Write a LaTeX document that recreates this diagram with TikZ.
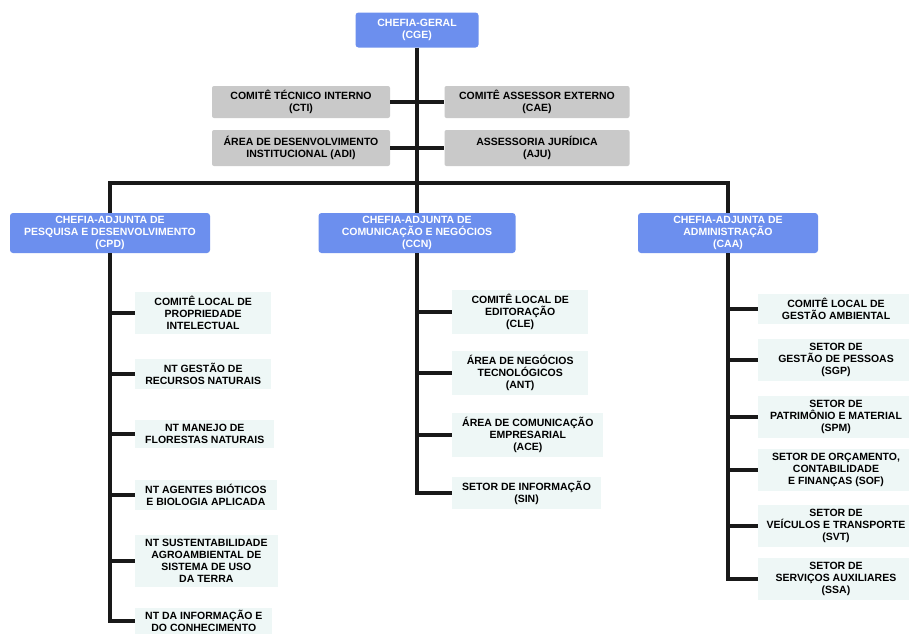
\documentclass[tikz,border=0pt]{standalone}
\usepackage{fontspec}
\setmainfont{Liberation Sans}
\usetikzlibrary{positioning}
\definecolor{chefiablue}{RGB}{108,143,238}
\definecolor{assessgray}{RGB}{201,201,201}
\definecolor{setorfill}{RGB}{238,247,246}
\newcommand{\orgfont}{\fontsize{10.5}{12}\selectfont}
\tikzstyle{chefia} = [rectangle, rounded corners=3pt, fill=chefiablue, text=white, font=\orgfont\bfseries, align=center, minimum height=40pt, inner sep=1pt]
\tikzstyle{assessoria} = [rectangle, rounded corners=2pt, fill=assessgray, font=\orgfont\bfseries, align=center, minimum height=32pt, inner sep=1pt]
\tikzstyle{setor} = [rectangle, fill=setorfill, font=\orgfont\bfseries, align=center, minimum width=136pt, inner xsep=10pt, inner ysep=4pt, anchor=west]
\tikzstyle{setoradm} = [setor, anchor=center, minimum width=156pt, inner xsep=1pt]
\tikzstyle{line} = [line width=3.2pt, draw=black!90]

\begin{document}
\begin{tikzpicture}[x=1pt, y=-1pt]
    \useasboundingbox (0,0) rectangle (909,635);
    \clip (0,0) rectangle (909,635);
    \fill[white] (0,0) rectangle (909,635);
    %chefias e assessorias
    \node (cge) [chefia, minimum width=123pt, minimum height=35pt] at (417,30) {CHEFIA-GERAL\\(CGE)};
    \node (cti) [assessoria, minimum width=178pt] at (301,102) {COMITÊ TÉCNICO INTERNO\\(CTI)};
    \node (cae) [assessoria, minimum width=185pt] at (537,102) {COMITÊ ASSESSOR EXTERNO\\(CAE)};
    \node (adi) [assessoria, minimum width=178pt, minimum height=36pt] at (301,148) {ÁREA DE DESENVOLVIMENTO\\INSTITUCIONAL (ADI)};
    \node (aju) [assessoria, minimum width=185pt, minimum height=36pt] at (537,148) {ASSESSORIA JURÍDICA\\(AJU)};
    \node (cpd) [chefia, minimum width=200pt] at (110,233) {CHEFIA-ADJUNTA DE\\PESQUISA E DESENVOLVIMENTO\\(CPD)};
    \node (ccn) [chefia, minimum width=197pt] at (417,233) {CHEFIA-ADJUNTA DE\\COMUNICAÇÃO E NEGÓCIOS\\(CCN)};
    \node (caa) [chefia, minimum width=180pt] at (728,233) {CHEFIA-ADJUNTA DE\\ADMINISTRAÇÃO\\(CAA)};
    \coordinate (barra) at (417,183);

    %pesquisa e desenvolvimento
    \node (p1) [setor] at (135,313) {COMITÊ LOCAL DE\\PROPRIEDADE\\INTELECTUAL};
    \node (p2) [setor] at (135,374) {NT GESTÃO DE\\RECURSOS NATURAIS};
    \node (p3) [setor] at (135,434) {NT MANEJO DE\\FLORESTAS NATURAIS};
    \node (p4) [setor] at (135,495) {NT AGENTES BIÓTICOS\\E BIOLOGIA APLICADA};
    \node (p5) [setor] at (135,561) {NT SUSTENTABILIDADE\\AGROAMBIENTAL DE\\SISTEMA DE USO\\DA TERRA};
    \node (p6) [setor, inner ysep=2pt] at (135,621) {NT DA INFORMAÇÃO E\\DO CONHECIMENTO};

    %comunicação e negócios
    \node (c1) [setor] at (452,312) {COMITÊ LOCAL DE\\EDITORAÇÃO\\(CLE)};
    \node (c2) [setor] at (452,373) {ÁREA DE NEGÓCIOS\\TECNOLÓGICOS\\(ANT)};
    \node (c3) [setor] at (452,435) {ÁREA DE COMUNICAÇÃO\\EMPRESARIAL\\(ACE)};
    \node (c4) [setor] at (452,493) {SETOR DE INFORMAÇÃO\\(SIN)};

    %administração
    \node (a1) [setoradm] at (836,309) {COMITÊ LOCAL DE\\GESTÃO AMBIENTAL};
    \node (a2) [setoradm] at (836,360) {SETOR DE\\GESTÃO DE PESSOAS\\(SGP)};
    \node (a3) [setoradm] at (836,417) {SETOR DE\\PATRIMÔNIO E MATERIAL\\(SPM)};
    \node (a4) [setoradm] at (836,470) {SETOR DE ORÇAMENTO,\\CONTABILIDADE\\E FINANÇAS (SOF)};
    \node (a5) [setoradm] at (836,526) {SETOR DE\\VEÍCULOS E TRANSPORTE\\(SVT)};
    \node (a6) [setoradm] at (836,579) {SETOR DE\\SERVIÇOS AUXILIARES\\(SSA)};

    %ligações
    \draw [line] (cge.south) -- (ccn.north);
    \draw [line] (cti.east) -- (cae.west);
    \draw [line] (adi.east) -- (aju.west);
    \draw [line] (cpd.north) |- (barra) -| (caa.north);
    \draw [line] (cpd.south) |- (p6.west);
    \draw [line] (ccn.south) |- (c4.west);
    \draw [line] (caa.south) |- (a6.west);
    \foreach \n in {p1,p2,p3,p4,p5}
        \draw [line] (cpd.south |- \n.west) -- (\n.west);
    \foreach \n in {c1,c2,c3}
        \draw [line] (ccn.south |- \n.west) -- (\n.west);
    \foreach \n in {a1,a2,a3,a4,a5}
        \draw [line] (caa.south |- \n.west) -- (\n.west);
\end{tikzpicture}
\end{document}
